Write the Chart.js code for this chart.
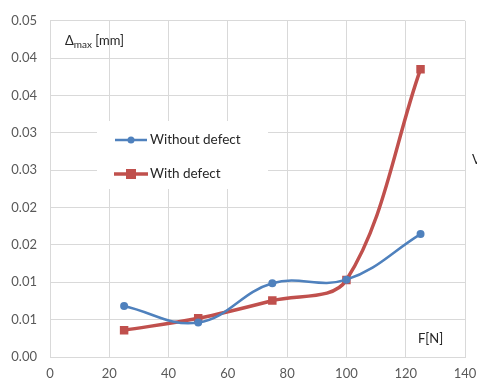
<!DOCTYPE html>
<html lang="en">
  <head>
    <meta charset="UTF-8" />
    <title>Displacement vs force</title>
    <style>
      html, body { margin: 0; padding: 0; background: #fff; }
      #wrap { width: 477px; height: 379px; position: relative; }
    </style>
  </head>
  <body>
    <div id="wrap"><canvas id="myChart"></canvas></div>

    <script src="https://cdn.jsdelivr.net/npm/chart.js@4/dist/chart.umd.min.js"></script>
    <script>
      const forces = [25, 50, 75, 100, 125];
      const withoutDefect = [0.00683, 0.00461, 0.00987, 0.01035, 0.01645];
      const withDefect = [0.00358, 0.00518, 0.00755, 0.01031, 0.03853];
      const yTickLabels = ["0.00", "0.01", "0.01", "0.02", "0.02", "0.03", "0.03", "0.04", "0.04", "0.05"];
      const xTickLabels = ["0", "20", "40", "60", "80", "100", "120", "140"];

      const blue = "#4F81BD";
      const red = "#C0504D";
      const font = "Lato, 'Open Sans', sans-serif";

      // legend box + axis captions drawn on top of the plot
      const extras = {
        id: "extras",
        afterDatasetsDraw(chart) {
          const ctx = chart.ctx;
          ctx.save();
          ctx.fillStyle = "#fff";
          ctx.fillRect(97, 121, 171, 68);

          ctx.lineCap = "butt";
          // without defect
          ctx.strokeStyle = blue;
          ctx.lineWidth = 2.5;
          ctx.beginPath();
          ctx.moveTo(115, 140);
          ctx.lineTo(147, 140);
          ctx.stroke();
          ctx.fillStyle = blue;
          ctx.beginPath();
          ctx.arc(131, 140, 3.5, 0, Math.PI * 2);
          ctx.fill();
          // with defect
          ctx.strokeStyle = red;
          ctx.lineWidth = 3.5;
          ctx.beginPath();
          ctx.moveTo(114, 174);
          ctx.lineTo(148, 174);
          ctx.stroke();
          ctx.fillStyle = red;
          ctx.fillRect(126, 169, 10, 10);

          ctx.fillStyle = "#262626";
          ctx.font = "13.5px " + font;
          ctx.textBaseline = "middle";
          ctx.textAlign = "left";
          ctx.fillText("Without defect", 150, 140);
          ctx.fillText("With defect", 150, 174);

          // y caption with subscript
          ctx.font = "13px " + font;
          ctx.fillText("\u0394", 65, 41);
          const w = ctx.measureText("\u0394").width;
          ctx.font = "10px " + font;
          ctx.fillText("max", 65 + w, 45);
          const w2 = ctx.measureText("max").width;
          ctx.font = "13px " + font;
          ctx.fillText(" [mm]", 65 + w + w2, 41);

          // x caption
          ctx.fillText("F[N]", 418, 339);
          // cut-off text at right edge
          ctx.fillText("V", 472, 160);
          ctx.restore();
        }
      };

      const ctx = document.getElementById("myChart").getContext("2d");
      const chart = new Chart(ctx, {
        type: "line",
        data: {
          datasets: [
            {
              label: "Without defect",
              data: forces.map((f, i) => ({ x: f, y: withoutDefect[i] })),
              borderColor: blue,
              backgroundColor: blue,
              borderWidth: 2.5,
              pointStyle: "circle",
              pointRadius: 4,
              pointBorderWidth: 0,
              tension: 0.4,
              fill: false
            },
            {
              label: "With defect",
              data: forces.map((f, i) => ({ x: f, y: withDefect[i] })),
              borderColor: red,
              backgroundColor: red,
              borderWidth: 3.5,
              pointStyle: "rect",
              pointRadius: 6,
              pointBorderWidth: 0,
              tension: 0.35,
              fill: false
            }
          ]
        },
        options: {
          responsive: true,
          maintainAspectRatio: false,
          animation: false,
          layout: { padding: { top: 20, right: 0, left: 0, bottom: 0 } },
          plugins: {
            legend: { display: false },
            tooltip: { enabled: false }
          },
          scales: {
            x: {
              type: "linear",
              min: 0,
              max: 140,
              ticks: {
                stepSize: 20,
                padding: 9,
                color: "#595959",
                font: { family: font, size: 13 },
                callback: (v, i) => xTickLabels[i]
              },
              grid: { color: "#D9D9D9", drawTicks: false },
              border: { color: "#D9D9D9" },
              afterFit: s => { s.height = 22; s.paddingRight = 12; }
            },
            y: {
              min: 0,
              max: 0.045,
              ticks: {
                stepSize: 0.005,
                padding: 13,
                color: "#595959",
                font: { family: font, size: 13 },
                callback: (v, i) => yTickLabels[i]
              },
              grid: { color: "#D9D9D9", drawTicks: false },
              border: { color: "#D9D9D9" },
              afterFit: s => { s.width = 50; }
            }
          }
        },
        plugins: [extras]
      });
    </script>
  </body>
</html>
